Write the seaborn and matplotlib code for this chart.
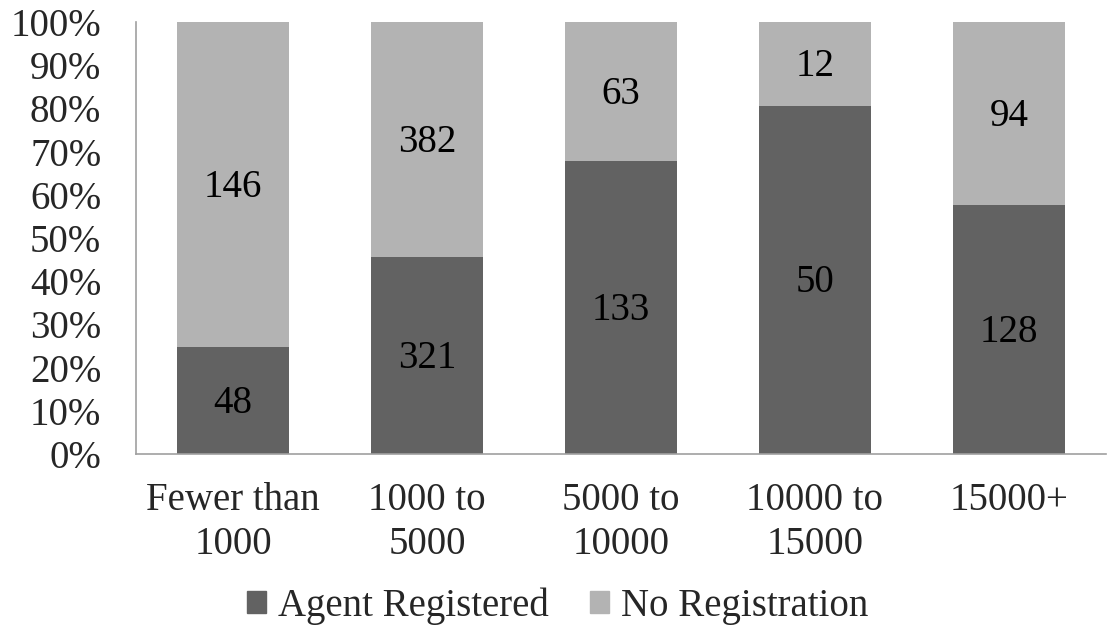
import matplotlib
matplotlib.use("Agg")
import matplotlib.pyplot as plt
import seaborn as sns
import pandas as pd
import numpy as np
from matplotlib.patches import Patch

categories = ["Fewer than\n1000", "1000 to\n5000", "5000 to\n10000", "10000 to\n15000", "15000+"]
agent_registered = [48, 321, 133, 50, 128]
no_registration = [146, 382, 63, 12, 94]

dark = "#626262"
light = "#b3b3b3"

sns.set_theme(style="white")
plt.rcParams["font.family"] = ["Liberation Serif", "DejaVu Serif"]

totals = np.array(agent_registered) + np.array(no_registration)
agent_pct = np.array(agent_registered) / totals * 100
df = pd.DataFrame({
    "category": categories,
    "agent": agent_pct,
    "total": np.full(len(categories), 100.0),
})

fig = plt.figure(figsize=(11.15, 6.31), dpi=100)
ax = fig.add_axes([136 / 1115, 1 - 454 / 631, 970 / 1115, 432 / 631])

bw = 0.577
sns.barplot(data=df, x="category", y="total", color=light, width=bw,
            saturation=1, ax=ax, linewidth=0)
sns.barplot(data=df, x="category", y="agent", color=dark, width=bw,
            saturation=1, ax=ax, linewidth=0)

fs = 28
for i, (a, n, p) in enumerate(zip(agent_registered, no_registration, agent_pct)):
    ax.annotate(str(a), (i, p / 2), xytext=(0, -2), textcoords="offset points",
                ha="center", va="center", fontsize=fs, color="black")
    ax.annotate(str(n), (i, p + (100 - p) / 2), xytext=(0, -2), textcoords="offset points",
                ha="center", va="center", fontsize=fs, color="black")

ax.set_ylim(0, 100)
ax.set_xlim(-0.5, len(categories) - 0.5)
ax.set_yticks(np.arange(0, 101, 10))
ax.set_yticklabels([f"{v}%" for v in range(0, 101, 10)], fontsize=fs)
ax.set_xticks(range(len(categories)))
ax.set_xticklabels(categories, fontsize=fs, linespacing=1.25)
ax.set_xlabel("")
ax.set_ylabel("")
ax.tick_params(axis="y", length=0, pad=25)
ax.tick_params(axis="x", length=0, pad=20)

for side in ["top", "right"]:
    ax.spines[side].set_visible(False)
for side in ["left", "bottom"]:
    ax.spines[side].set_color("#a0a0a0")
    ax.spines[side].set_linewidth(1.2)

handles = [Patch(color=dark, label="Agent Registered"),
           Patch(color=light, label="No Registration")]
fig.legend(handles=handles, loc="center", bbox_to_anchor=(0.5, 1 - 606 / 631),
           ncol=2, frameon=False, fontsize=fs, handlelength=0.5, handleheight=0.5,
           handletextpad=0.3, columnspacing=1.05)

fig.savefig("out.png", dpi=100)
